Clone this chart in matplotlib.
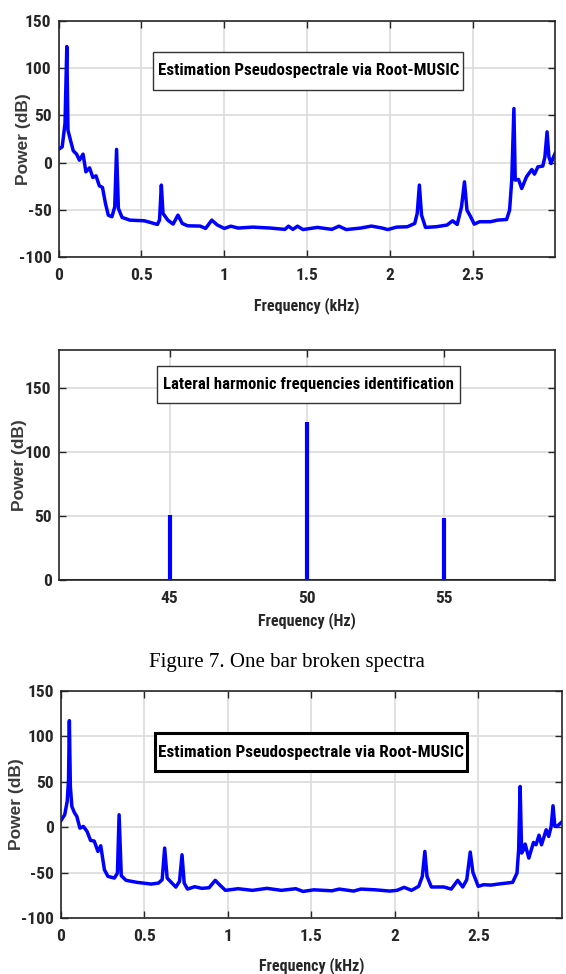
import matplotlib
matplotlib.use("Agg")
import matplotlib.pyplot as plt
from matplotlib.patches import Rectangle

# healthy-ish motor spectrum (Root-MUSIC pseudospectrum), kHz / dB
freq1 = [0, 0.022, 0.039, 0.050, 0.057, 0.072, 0.089, 0.109, 0.126, 0.148, 0.165, 0.187,
         0.207, 0.226, 0.246, 0.265, 0.283, 0.300, 0.322, 0.339, 0.350, 0.361, 0.383, 0.430,
         0.517, 0.561, 0.596, 0.609, 0.620, 0.630, 0.659, 0.691, 0.720, 0.746, 0.778, 0.854,
         0.887, 0.924, 0.957, 1.000, 1.039, 1.083, 1.170, 1.278, 1.365, 1.387, 1.413, 1.441,
         1.474, 1.561, 1.648, 1.691, 1.735, 1.822, 1.887, 1.952, 1.985, 2.039, 2.104, 2.148,
         2.163, 2.176, 2.189, 2.213, 2.278, 2.343, 2.376, 2.404, 2.430, 2.448, 2.463, 2.485,
         2.507, 2.539, 2.604, 2.648, 2.702, 2.720, 2.733, 2.746, 2.754, 2.774, 2.793, 2.822,
         2.854, 2.870, 2.891, 2.920, 2.933, 2.946, 2.957, 2.970, 2.985, 2.996]
power1 = [14.0, 16.7, 41.4, 123.0, 34.3, 23.8, 12.5, 9.0, 2.6, 9.0, -9.7, -5.5,
          -15.7, -14.0, -24.5, -26.3, -43.2, -55.6, -57.3, -46.8, 14.0, -48.5, -58.0, -60.9,
          -61.6, -63.7, -65.5, -60.9, -23.8, -53.8, -60.9, -65.1, -55.6, -64.4, -66.9, -67.2,
          -69.7, -60.9, -66.0, -69.7, -67.3, -69.3, -68.3, -69.3, -70.7, -67.3, -70.7, -67.3,
          -70.9, -68.6, -70.7, -67.3, -70.9, -69.3, -67.2, -69.3, -70.9, -68.3, -67.9, -64.4,
          -53.8, -23.8, -55.6, -68.6, -67.9, -66.1, -61.6, -65.5, -46.8, -20.3, -50.3, -57.3,
          -65.1, -62.6, -62.6, -60.9, -60.2, -50.3, -18.5, 57.3, -18.5, -17.8, -27.4, -15.0,
          -7.3, -12.2, -4.4, -3.7, 6.1, 32.6, 6.1, -0.9, 6.1, 10.4]

# side-band zoom around the supply frequency (Hz / dB)
side_freq = [45, 50, 55]
side_power = [50.9, 123.3, 48.6]

# broken bar spectrum (kHz / dB)
freq3 = [0, 0.022, 0.037, 0.045, 0.050, 0.056, 0.065, 0.080, 0.095, 0.113, 0.134, 0.156,
         0.177, 0.199, 0.221, 0.238, 0.260, 0.281, 0.320, 0.338, 0.348, 0.361, 0.390, 0.455,
         0.541, 0.584, 0.606, 0.621, 0.636, 0.688, 0.710, 0.725, 0.738, 0.758, 0.801, 0.844,
         0.887, 0.924, 0.952, 0.985, 1.061, 1.147, 1.234, 1.320, 1.407, 1.450, 1.515, 1.623,
         1.667, 1.753, 1.797, 1.883, 1.970, 2.013, 2.056, 2.100, 2.143, 2.165, 2.180, 2.193,
         2.219, 2.294, 2.338, 2.377, 2.407, 2.431, 2.452, 2.468, 2.500, 2.532, 2.576, 2.619,
         2.706, 2.732, 2.742, 2.751, 2.760, 2.771, 2.781, 2.803, 2.831, 2.846, 2.864, 2.879,
         2.907, 2.922, 2.937, 2.948, 2.959, 2.976, 2.998]
power3 = [7.2, 13.5, 28.1, 51.9, 117.0, 44.6, 22.6, 16.0, 11.6, -1.2, 0.7, -4.8,
          -14.7, -15.4, -26.8, -20.6, -46.9, -54.2, -56.1, -50.6, 13.5, -53.5, -58.6, -60.8,
          -62.7, -61.6, -57.9, -23.1, -56.1, -66.0, -59.7, -30.5, -61.6, -68.2, -65.6, -67.4,
          -66.7, -58.6, -63.8, -69.6, -67.8, -69.6, -67.4, -69.6, -67.8, -70.8, -69.0, -70.1,
          -68.2, -70.4, -68.2, -69.0, -70.4, -69.6, -66.3, -69.6, -65.2, -54.2, -26.8, -54.2,
          -65.9, -65.9, -68.2, -58.6, -65.9, -57.9, -27.5, -49.9, -65.2, -63.4, -63.8, -62.7,
          -60.8, -50.6, -25.0, 44.6, -28.6, -25.0, -18.7, -34.1, -16.9, -19.5, -8.9, -19.5,
          -3.0, -10.3, 0.7, 23.4, 0.7, 1.4, 5.1]

khz_ticks = [0, 0.5, 1, 1.5, 2, 2.5]
khz_labels = ['0', '0.5', '1', '1.5', '2', '2.5']
db_ticks = [-100, -50, 0, 50, 100, 150]
db_labels = ['-100', '-50', '0', '50', '100', '150']
hz_ticks = [45, 50, 55]
hz_labels = ['45', '50', '55']
side_db_ticks = [0, 50, 100, 150]
side_db_labels = ['0', '50', '100', '150']

NARROW = ['Roboto Condensed', 'PT Sans Narrow', 'Fira Sans Condensed', 'DejaVu Sans']
DARK = '#262626'
BLUE = '#0000ff'
NFONT = dict(family=NARROW, fontweight='bold', fontstretch='condensed')


def style_axes(ax, xticks, xlabels, yticks, ylabels, ylab_x, xlab_y, xlab):
    ax.set_xticks(xticks)
    ax.set_xticklabels(xlabels, fontsize=12.5, color=DARK, **NFONT)
    ax.set_yticks(yticks)
    ax.set_yticklabels(ylabels, fontsize=12.5, color=DARK, **NFONT)
    ax.tick_params(direction='in', length=5, width=1.0, colors=DARK,
                   top=True, right=True, labelcolor=DARK)
    ax.tick_params(axis='x', pad=8)
    ax.tick_params(axis='y', pad=5)
    ax.grid(True, color='#dcdcdc', lw=1.2)
    ax.set_axisbelow(True)
    for s in ax.spines.values():
        s.set_color(DARK)
        s.set_linewidth(1.2)
    ax.set_ylabel('Power (dB)', family='Liberation Sans', fontweight='bold',
                  fontsize=12.5, color='#3a3a3a')
    ax.yaxis.set_label_coords(ylab_x, 0.5)
    ax.yaxis.label.set_va('center')
    ax.set_xlabel(xlab, fontsize=11.5, color=DARK, **NFONT)
    ax.xaxis.set_label_coords(0.5, xlab_y)
    ax.xaxis.label.set_va('center')


def label_box(ax, x0, x1, y0, y1, text, size, lw=1.0, ec='#333333'):
    ax.add_patch(Rectangle((x0, y0), x1 - x0, y1 - y0, transform=ax.transAxes,
                           fc='white', ec=ec, lw=lw, zorder=5))
    ax.text((x0 + x1) / 2, (y0 + y1) / 2, text, transform=ax.transAxes,
            ha='center', va='center', fontsize=size, color='black', zorder=6, **NFONT)


fig = plt.figure(figsize=(5.66, 9.74), dpi=100)

# top: pseudospectrum
ax1 = fig.add_axes([0.1034, 0.7361, 0.8775, 0.2423])
ax1.plot(freq1, power1, color=BLUE, lw=2.5)
ax1.set_xlim(0, 2.995)
ax1.set_ylim(-100, 150)
style_axes(ax1, khz_ticks, khz_labels, db_ticks, db_labels, -0.0703, -0.2034, 'Frequency (kHz)')
label_box(ax1, 0.191, 0.815, 0.708, 0.869, 'Estimation Pseudospectrale via Root-MUSIC', 12.2)

# middle: lateral harmonics around 50 Hz
ax2 = fig.add_axes([0.1034, 0.4045, 0.8775, 0.2361])
ax2.vlines(side_freq, 0, side_power, color=BLUE, lw=3)
ax2.axhline(0, color=DARK, lw=2.2, zorder=3)
ax2.set_xlim(40.95, 59.05)
ax2.set_ylim(0, 180)
style_axes(ax2, hz_ticks, hz_labels, side_db_ticks, side_db_labels, -0.079, -0.176, 'Frequency (Hz)')
label_box(ax2, 0.198, 0.809, 0.768, 0.930, 'Lateral harmonic frequencies identification', 12.1)

fig.text(0.507, 1 - 663 / 974, 'Figure 7. One bar broken spectra', ha='center', va='center',
         family='Liberation Serif', fontsize=15, color='black')

# bottom: broken bar pseudospectrum
ax3 = fig.add_axes([0.1078, 0.0575, 0.8846, 0.2334])
ax3.plot(freq3, power3, color=BLUE, lw=2.5)
ax3.set_xlim(0, 3.0)
ax3.set_ylim(-100, 150)
style_axes(ax3, khz_ticks, khz_labels, db_ticks, db_labels, -0.089, -0.207, 'Frequency (kHz)')
label_box(ax3, 0.187, 0.810, 0.647, 0.8126, 'Estimation Pseudospectrale via Root-MUSIC', 12.3,
          lw=2.2, ec='black')

fig.savefig('out.png', dpi=100)
